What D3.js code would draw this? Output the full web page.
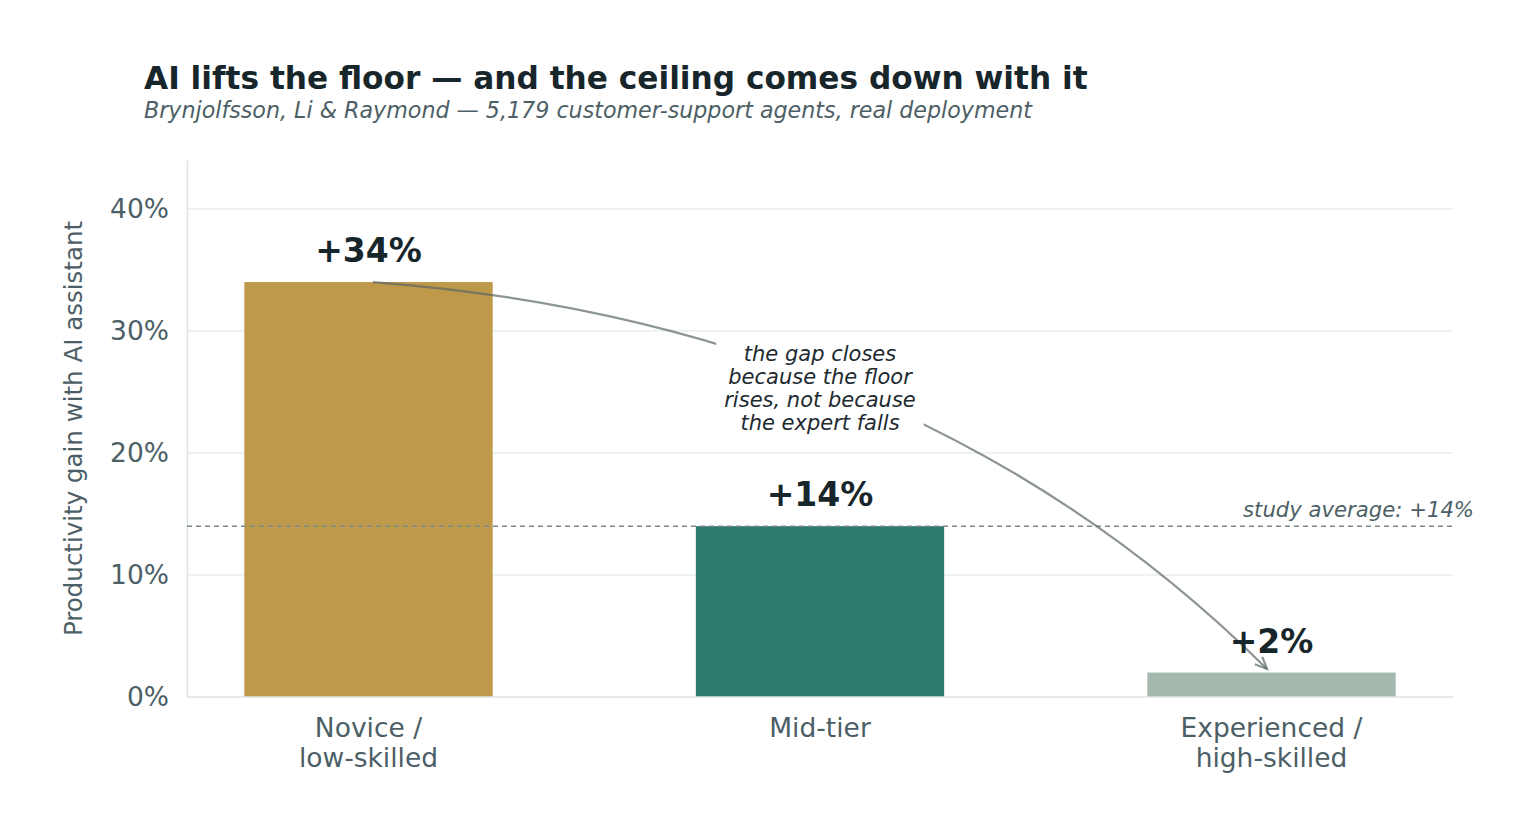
<!DOCTYPE html>
<html>
<head>
<meta charset="utf-8">
<script src="https://cdn.jsdelivr.net/npm/d3@7"></script>
<style>
  body { margin: 0; background: #fff; }
  svg { font-family: "DejaVu Sans", sans-serif; }
</style>
</head>
<body>
<svg id="chart" width="1539" height="835"></svg>
<script>
// data
const categories = ["Novice /\nlow-skilled", "Mid-tier", "Experienced /\nhigh-skilled"]
const gains = [34, 14, 2]
const barColors = ["#bf994a", "#2e7b70", "#a4b8ae"]
const yTicks = [0, 10, 20, 30, 40]
const studyAverage = 14
// annotation arrow, in data units (category index, percent)
const arrowFrom = [0.01, 34]
const arrowCtrl = [1.22, 30.6]
const arrowTo = [1.99, 2.3]
const noteLines = ["the gap closes", "because the floor", "rises, not because", "the expert falls"]

const plotL = 187, plotR = 1453, plotT = 160, plotB = 697
const svg = d3.select("#chart")

const x = d3.scaleBand()
  .domain(d3.range(categories.length))
  .range([plotL, plotR])
  .paddingInner(0.45)
  .paddingOuter(0.127)
const y = d3.scaleLinear().domain([0, 44]).range([plotB, plotT])
const cx = i => x(Math.floor(i)) + x.bandwidth() / 2 + (i - Math.floor(i)) * x.step()

// title
svg.append("text").attr("x", 144).attr("y", 89)
  .attr("font-size", 31.2).attr("font-weight", "bold").attr("fill", "#17262b")
  .text("AI lifts the floor — and the ceiling comes down with it")
svg.append("text").attr("x", 144).attr("y", 117.5)
  .attr("font-size", 22.2).attr("font-style", "italic").attr("fill", "#4d5f66")
  .text("Brynjolfsson, Li & Raymond — 5,179 customer-support agents, real deployment")

// grid
svg.append("g").selectAll("line")
  .data(yTicks.filter(d => d > 0))
  .join("line")
  .attr("x1", plotL).attr("x2", plotR)
  .attr("y1", d => y(d)).attr("y2", d => y(d))
  .attr("stroke", "#e9eeee").attr("stroke-width", 1.5)

// y axis
const yAxis = svg.append("g")
  .attr("transform", `translate(${plotL},0)`)
  .call(d3.axisLeft(y).tickValues(yTicks).tickFormat(d => d + "%").tickSize(0).tickPadding(18))
yAxis.select(".domain").attr("stroke", "#dde4e4").attr("stroke-width", 1.5)
yAxis.selectAll("text").attr("font-size", 26.5).attr("fill", "#4d5f66")
  .attr("font-family", "DejaVu Sans, sans-serif")

svg.append("text")
  .attr("transform", `translate(82,${(plotT + plotB) / 2}) rotate(-90)`)
  .attr("text-anchor", "middle")
  .attr("font-size", 24.5).attr("fill", "#4d5f66")
  .text("Productivity gain with AI assistant")

// bars
svg.append("g").selectAll("rect")
  .data(gains)
  .join("rect")
  .attr("x", (d, i) => x(i))
  .attr("y", d => y(d))
  .attr("width", x.bandwidth())
  .attr("height", d => y(0) - y(d))
  .attr("fill", (d, i) => barColors[i])

// x axis
svg.append("line")
  .attr("x1", plotL).attr("x2", plotR).attr("y1", y(0)).attr("y2", y(0))
  .attr("stroke", "#dde4e4").attr("stroke-width", 1.5)
svg.append("g").selectAll("text")
  .data(categories)
  .join("text")
  .attr("text-anchor", "middle")
  .attr("font-size", 26.5).attr("fill", "#4d5f66")
  .each(function (d, i) {
    d3.select(this).selectAll("tspan")
      .data(d.split("\n"))
      .join("tspan")
      .attr("x", x(i) + x.bandwidth() / 2)
      .attr("y", (t, k) => y(0) + 40 + k * 30)
      .text(t => t)
  })

// study average
svg.append("line")
  .attr("x1", plotL).attr("x2", plotR)
  .attr("y1", y(studyAverage)).attr("y2", y(studyAverage))
  .attr("stroke", "#7d8a8a").attr("stroke-width", 1.5)
  .attr("stroke-dasharray", "5,4")
svg.append("text")
  .attr("x", 1474).attr("y", y(studyAverage) - 9)
  .attr("text-anchor", "end")
  .attr("font-size", 21.2).attr("font-style", "italic").attr("fill", "#4d5f66")
  .text("study average: +" + studyAverage + "%")

// arrow
const p0 = [cx(arrowFrom[0]), y(arrowFrom[1])]
const pc = [cx(arrowCtrl[0]), y(arrowCtrl[1])]
const p1 = [cx(arrowTo[0]), y(arrowTo[1])]
const path = d3.path()
path.moveTo(...p0)
path.quadraticCurveTo(...pc, ...p1)
svg.append("path").attr("d", path.toString())
  .attr("fill", "none").attr("stroke", "#5b6666").attr("stroke-opacity", 0.7).attr("stroke-width", 2.2)
const ang = Math.atan2(p1[1] - pc[1], p1[0] - pc[0])
const head = d3.path()
const hl = 13, ha = 0.42
head.moveTo(p1[0] - hl * Math.cos(ang - ha), p1[1] - hl * Math.sin(ang - ha))
head.lineTo(...p1)
head.lineTo(p1[0] - hl * Math.cos(ang + ha), p1[1] - hl * Math.sin(ang + ha))
svg.append("path").attr("d", head.toString())
  .attr("fill", "none").attr("stroke", "#5b6666").attr("stroke-opacity", 0.7).attr("stroke-width", 2.2)

// note with white box
const noteX = cx(1), noteY = 354
const note = svg.append("g")
const box = note.append("rect").attr("fill", "#fff")
const noteText = note.append("text")
  .attr("text-anchor", "middle")
  .attr("font-size", 21).attr("font-style", "italic").attr("fill", "#1d2a30")
noteText.selectAll("tspan")
  .data(noteLines)
  .join("tspan")
  .attr("x", noteX)
  .attr("y", (d, i) => noteY + 7 + i * 23)
  .text(d => d)
const bb = noteText.node().getBBox()
box.attr("x", bb.x - 8).attr("y", bb.y - 4).attr("width", bb.width + 16).attr("height", bb.height + 8)

// value labels
svg.append("g").selectAll("text")
  .data(gains)
  .join("text")
  .attr("x", (d, i) => x(i) + x.bandwidth() / 2)
  .attr("y", d => y(d) - 20)
  .attr("text-anchor", "middle")
  .attr("font-size", 33).attr("font-weight", "bold").attr("fill", "#17262b")
  .text(d => "+" + d + "%")
</script>
</body>
</html>
